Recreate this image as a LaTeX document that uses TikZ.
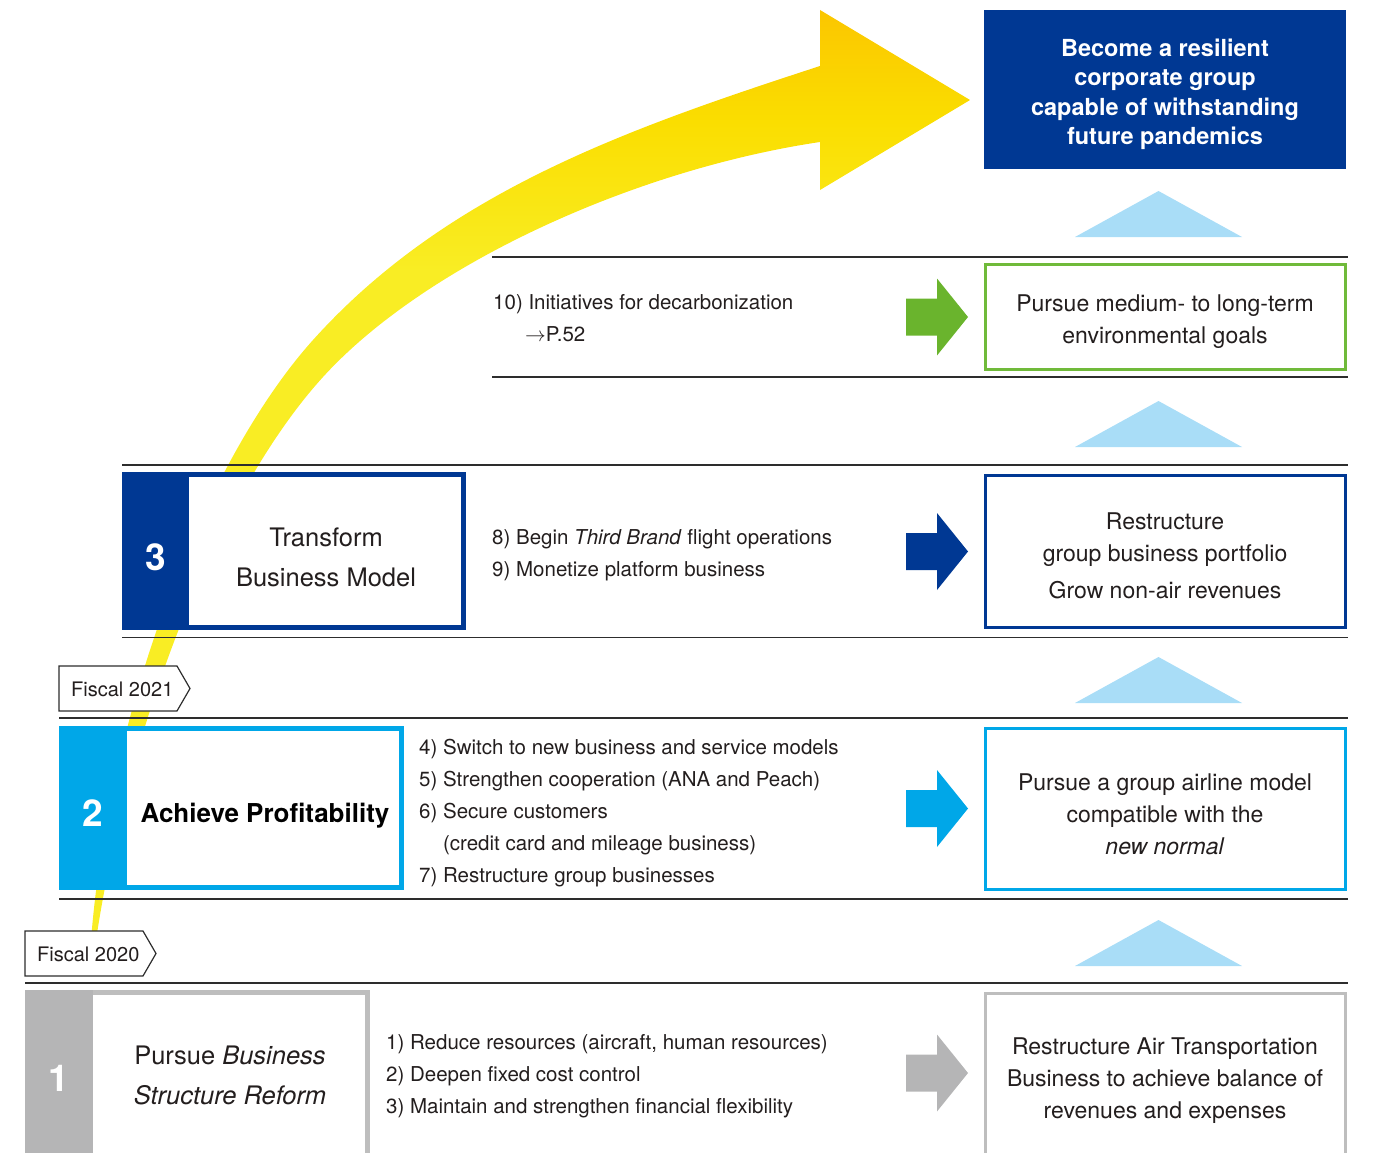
\documentclass[tikz,border=0pt]{standalone}
\usepackage{fontspec}
\setmainfont{TeX Gyre Heros}
\definecolor{navy}{RGB}{0,56,147}
\definecolor{anacyan}{RGB}{0,167,232}
\definecolor{anagreen}{RGB}{106,180,45}
\definecolor{boxgreen}{RGB}{112,186,58}
\definecolor{anagray}{RGB}{181,181,182}
\definecolor{boxgray}{RGB}{190,190,190}
\definecolor{tri}{RGB}{169,221,247}
\definecolor{rulec}{RGB}{45,45,45}
\definecolor{txt}{RGB}{35,30,30}
\definecolor{yA}{RGB}{249,237,36}
\definecolor{yB}{RGB}{250,222,0}
\definecolor{yC}{RGB}{251,198,0}
\pgfdeclareverticalshading{yelshade}{100bp}{color(0bp)=(yA); color(25bp)=(yA); color(61bp)=(yA); color(69bp)=(yB); color(75bp)=(yC); color(100bp)=(yC)}
\tikzset{
  listtext/.style={anchor=base west, align=left, font=\fontsize{20.5}{32}\selectfont, text=txt, inner sep=0},
  goaltext/.style={anchor=base, align=center, font=\fontsize{23}{32}\selectfont, text=txt, inner sep=0},
  steptext/.style={anchor=base, align=center, font=\fontsize{25.5}{40}\selectfont, text=txt, inner sep=0},
  stepnum/.style={anchor=base, font=\bfseries\fontsize{37}{40}\selectfont, text=white, inner sep=0},
  fiscaltext/.style={anchor=base west, font=\fontsize{20}{24}\selectfont, text=txt, inner sep=0},
  rulel/.style={draw=rulec, line width=1.4},
  fiscalbox/.style={draw=rulec, line width=1.2, fill=white, line join=miter},
  goalbox/.style={line width=3, fill=white, anchor=north west, inner sep=0, outer sep=0},
  stepbox/.style={line width=5, fill=white, anchor=north west, inner sep=0, outer sep=0},
  blockarrow/.pic={\fill (0,-18.5) -- (31,-18.5) -- (31,-38.5) -- (62,0) -- (31,38.5) -- (31,18.5) -- (0,18.5) -- cycle;},
  uptri/.pic={\fill[tri] (-83.5,0) -- (0,-46) -- (83.5,0) -- cycle;}
}
\begin{document}
\begin{tikzpicture}[x=1pt,y=-1pt]
\useasboundingbox (0,0) rectangle (1376,1153);
% yellow curved arrow
\shade[shading=yelshade] (91,940) .. controls (111,691) and (213,451) .. (313,340)
  .. controls (447,191) and (630,128) .. (820,66)
  -- (820,10) -- (970,100) -- (820,190) -- (820,142)
  .. controls (632,170) and (424,266) .. (323,377)
  .. controls (222,488) and (130.5,712.5) .. (96,940) -- cycle;
% rules
\draw[rulel] (492,257) -- (1348,257);
\draw[rulel] (492,377) -- (1348,377);
\draw[rulel] (122,465) -- (1348,465);
\draw[rulel] (122,637.5) -- (1348,637.5);
\draw[rulel] (59,718) -- (1348,718);
\draw[rulel] (59,899) -- (1348,899);
\draw[rulel] (25,983) -- (1348,983);
% goal box
\node[fill=navy, minimum width=362, minimum height=159, anchor=north west, inner sep=0, outer sep=0] (goal) at (984,10) {};
\node[anchor=base, align=center, font=\bfseries\fontsize{23.5}{29.4}\selectfont, text=white, inner sep=0] (goaltxt) at (1165,144.7) {Become a resilient\\corporate group\\capable of withstanding\\future pandemics};
% up triangles
\pic (t1) at (1158.5,237) {uptri};
\pic (t2) at (1158.5,447) {uptri};
\pic (t3) at (1158.5,703) {uptri};
\pic (t4) at (1158.5,966) {uptri};
% right boxes (placed by their stroke centre line)
\node[goalbox, draw=boxgreen, minimum width=360, minimum height=105] (g10) at (985.5,264.5) {};
\node[goalbox, draw=navy, line width=2.6, minimum width=360.4, minimum height=152.4] (g3) at (985.3,475.3) {};
\node[goalbox, draw=anacyan, minimum width=360, minimum height=161] (g2) at (985.5,728.5) {};
\node[goalbox, draw=boxgray, minimum width=360, minimum height=170] (g1) at (985.5,993.5) {};
\node[goaltext] (g10t) at (1165,343) {Pursue medium- to long-term\\environmental goals};
\node[goaltext] (g3t) at (1165,598) {Restructure\\group business portfolio\\[5pt]Grow non-air revenues};
\node[goaltext] (g2t) at (1165,854) {Pursue a group airline model\\compatible with the\\\textit{new normal}};
\node[goaltext] (g1t) at (1165,1118) {Restructure Air Transportation\\Business to achieve balance of\\revenues and expenses};
% block arrows
\pic[anagreen] (a10) at (906,317) {blockarrow};
\pic[navy] (a3) at (906,551.5) {blockarrow};
\pic[anacyan] (a2) at (906,808.5) {blockarrow};
\pic[anagray] (a1) at (906,1073) {blockarrow};
% lists
\node[listtext] (l10) at (493,341.5) {10) Initiatives for decarbonization\\\hspace*{32pt}$\rightarrow$P.52};
\node[listtext] (l3) at (492,576.5) {8) Begin \textit{Third Brand} flight operations\\9) Monetize platform business};
\node[listtext] (l2) at (419,882) {4) Switch to new business and service models\\5) Strengthen cooperation (ANA and Peach)\\6) Secure customers\\\hphantom{6) }(credit card and mileage business)\\7) Restructure group businesses};
\node[listtext] (l1) at (386,1113.5) {1) Reduce resources (aircraft, human resources)\\2) Deepen fixed cost control\\3) Maintain and strengthen financial flexibility};
% step 3
\node[stepbox, draw=navy, minimum width=339, minimum height=153] (s3) at (124.5,474.5) {};
\fill[navy] (122,472) rectangle (189,630);
\node[stepnum] (n3) at (155.5,570) {3};
\node[steptext] (s3t) at (326,586) {Transform\\Business Model};
% step 2
\node[stepbox, draw=anacyan, minimum width=340, minimum height=159] (s2) at (61.5,728.5) {};
\fill[anacyan] (59,726) rectangle (127,890);
\node[stepnum] (n2) at (93,826) {2};
\node[anchor=base, font=\bfseries\fontsize{26}{30}\selectfont, text=black, inner sep=0] (s2t) at (265,822.5) {Achieve Profitability};
% step 1
\node[stepbox, draw=boxgray, minimum width=340, minimum height=170] (s1) at (27.5,992.5) {};
\fill[anagray] (25,990) rectangle (93,1160);
\node[stepnum] (n1) at (59,1091) {1};
\node[steptext] (s1t) at (230,1104) {Pursue \textit{Business}\\\textit{Structure Reform}};
% fiscal labels
\draw[fiscalbox] (59,666) -- (177,666) -- (190,688.5) -- (177,711) -- (59,711) -- cycle;
\node[fiscaltext] (f21) at (71,696) {Fiscal 2021};
\draw[fiscalbox] (25,931) -- (143,931) -- (156,953.5) -- (143,976) -- (25,976) -- cycle;
\node[fiscaltext] (f20) at (37,961) {Fiscal 2020};
\end{tikzpicture}
\end{document}
